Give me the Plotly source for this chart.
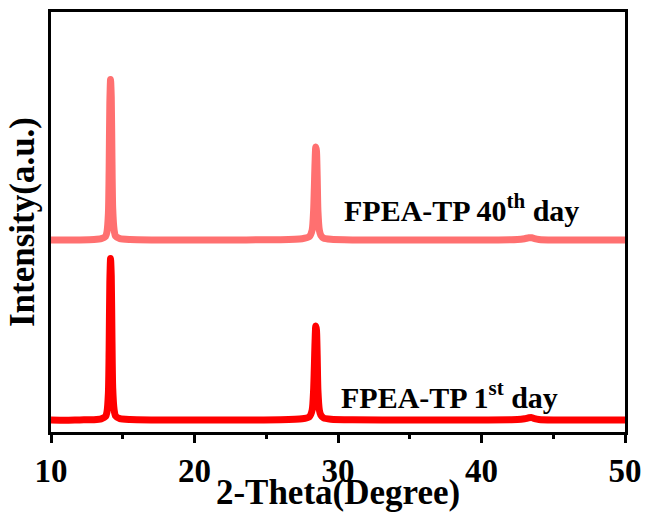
import plotly.graph_objects as go

# 2-theta sampling (degrees) shared by both scans
two_theta = [10.0, 11.0, 12.0, 13.0, 13.5, 13.8, 13.9, 14.0, 14.05, 14.1, 14.15, 14.2,
             14.25, 14.3, 14.4, 14.5, 14.8, 15.5, 17.0, 20.0, 23.0, 26.0, 27.5, 28.0,
             28.2, 28.3, 28.4, 28.45, 28.5, 28.55, 28.6, 28.7, 28.8, 29.0, 29.5, 31.0,
             35.0, 40.0, 42.5, 43.0, 43.3, 43.5, 43.7, 44.0, 45.0, 48.0, 50.0]

# Intensity (counts) of the freshly prepared film
intensity_day1 = [200, 198, 201, 203, 212, 235, 280, 470, 900, 1580, 1815, 1640,
                  1000, 520, 300, 240, 214, 205, 201, 199, 200, 202, 212, 232,
                  300, 500, 980, 1140, 1100, 850, 500, 300, 250, 220, 208, 202,
                  200, 201, 204, 212, 222, 224, 214, 206, 201, 200, 200]

# Intensity (counts) after 40 days of storage
intensity_day40 = [200, 199, 200, 204, 213, 236, 282, 465, 890, 1570, 1805, 1630,
                   990, 515, 298, 238, 213, 204, 200, 200, 201, 203, 213, 233,
                   300, 495, 970, 1130, 1090, 840, 495, 298, 248, 219, 207, 201,
                   200, 200, 205, 213, 222, 223, 213, 205, 200, 200, 200]

stack_offset = 1800  # vertical shift between the stacked patterns

FONT = "Liberation Serif, Times New Roman, serif"

fig = go.Figure()
fig.add_trace(go.Scatter(
    x=two_theta, y=intensity_day1, mode="lines",
    line=dict(color="#FF0000", width=7, shape="spline", smoothing=0.6),
    name="FPEA-TP 1st day", hoverinfo="x+y",
))
fig.add_trace(go.Scatter(
    x=two_theta, y=[v + stack_offset for v in intensity_day40], mode="lines",
    line=dict(color="#FF7070", width=7, shape="spline", smoothing=0.6),
    name="FPEA-TP 40th day", hoverinfo="x+y",
))

fig.add_annotation(
    x=30.3, y=200 + stack_offset + 320, xref="x", yref="y",
    text="FPEA-TP 40<sup>th</sup> day", showarrow=False,
    xanchor="left", yanchor="middle",
    font=dict(family=FONT, size=30, color="black", weight="bold"),
)
fig.add_annotation(
    x=30.1, y=200 + 250, xref="x", yref="y",
    text="FPEA-TP 1<sup>st</sup> day", showarrow=False,
    xanchor="left", yanchor="middle",
    font=dict(family=FONT, size=30, color="black", weight="bold"),
)

fig.update_layout(
    width=647, height=512,
    margin=dict(l=51, r=22, t=12, b=80, autoexpand=False),
    paper_bgcolor="white", plot_bgcolor="white",
    showlegend=False,
    font=dict(family=FONT, color="black"),
)
fig.update_xaxes(
    range=[10, 50], dtick=10, tick0=10, automargin=False,
    showgrid=False, zeroline=False,
    showline=True, mirror=True, linecolor="black", linewidth=2.5,
    ticks="outside", ticklen=8, tickwidth=2.5, tickcolor="black",
    minor=dict(dtick=5, ticks="outside", ticklen=4, tickwidth=2.5, tickcolor="black"),
    tickfont=dict(family=FONT, size=33, color="black", weight="bold"),
    title=dict(text="2-Theta(Degree)", standoff=0,
               font=dict(family=FONT, size=35, color="black", weight="bold")),
)
fig.update_yaxes(
    range=[80, 4280], automargin=False,
    showgrid=False, zeroline=False,
    showline=True, mirror=True, linecolor="black", linewidth=2.5,
    ticks="", showticklabels=False,
    title=dict(text="Intensity(a.u.)", standoff=4,
               font=dict(family=FONT, size=35, color="black", weight="bold")),
)

fig.write_html("out.html")
